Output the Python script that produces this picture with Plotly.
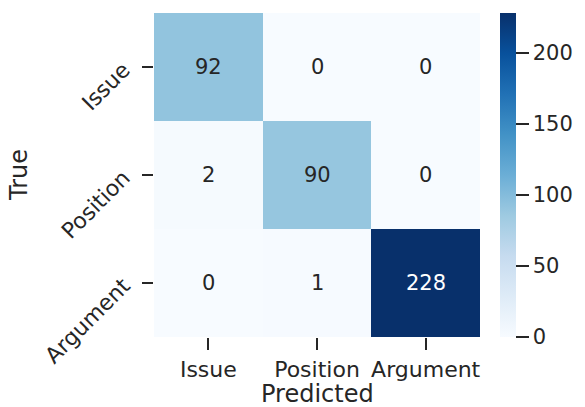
import plotly.graph_objects as go

labels = ["Issue", "Position", "Argument"]
matrix = [
    [92, 0, 0],
    [2, 90, 0],
    [0, 1, 228],
]
cbar_ticks = [0, 50, 100, 150, 200]
x_title = "Predicted"
y_title = "True"

blues = ["#f7fbff", "#deebf7", "#c6dbef", "#9ecae1", "#6baed6",
         "#4292c6", "#2171b5", "#08519c", "#08306b"]
colorscale = [[i / (len(blues) - 1), c] for i, c in enumerate(blues)]

zmin, zmax = 0, max(max(r) for r in matrix)
TXT = "#262626"
FONT = "DejaVu Sans"

fig = go.Figure()
fig.add_trace(go.Heatmap(
    z=matrix, x=labels, y=labels,
    colorscale=colorscale, zmin=zmin, zmax=zmax,
    showscale=True,
    colorbar=dict(
        x=1.06, xanchor="left", xpad=0, y=0.5, yanchor="middle", ypad=0,
        len=1.0, lenmode="fraction", thickness=16, outlinewidth=0,
        tickvals=cbar_ticks, ticks="outside", ticklen=13, tickwidth=2,
        tickcolor=TXT,
        tickfont=dict(family=FONT, size=21, color=TXT),
    ),
    hoverinfo="skip",
))

annotations = []
for i, row in enumerate(matrix):
    for j, v in enumerate(row):
        col = "white" if v > (zmin + zmax) / 2 else TXT
        annotations.append(dict(
            x=labels[j], y=labels[i], text=str(v), showarrow=False,
            font=dict(family=FONT, size=21, color=col),
        ))
annotations.append(dict(
    x=0.5, y=0, xref="paper", yref="paper", xanchor="center", yanchor="middle",
    yshift=-57, text=x_title, showarrow=False,
    font=dict(family=FONT, size=24, color=TXT),
))
annotations.append(dict(
    x=0, y=0.5, xref="paper", yref="paper", xanchor="center", yanchor="middle",
    xshift=-135, text=y_title, textangle=-90, showarrow=False,
    font=dict(family=FONT, size=24, color=TXT),
))

fig.update_layout(
    width=585, height=407,
    margin=dict(l=154, r=98, t=13, b=70),
    paper_bgcolor="white", plot_bgcolor="white",
    annotations=annotations,
    font=dict(family=FONT, color=TXT),
)
fig.update_xaxes(
    showgrid=False, zeroline=False, showline=False,
    ticks="outside", ticklen=12, tickwidth=2, tickcolor=TXT,
    ticklabelstandoff=1,
    tickfont=dict(size=22, color=TXT),
)
fig.update_yaxes(
    showgrid=False, zeroline=False, showline=False, autorange="reversed",
    ticks="outside", ticklen=11, tickwidth=2, tickcolor=TXT,
    tickangle=-45, ticklabelstandoff=14,
    tickfont=dict(size=22, color=TXT),
)

fig.write_html("out.html")
